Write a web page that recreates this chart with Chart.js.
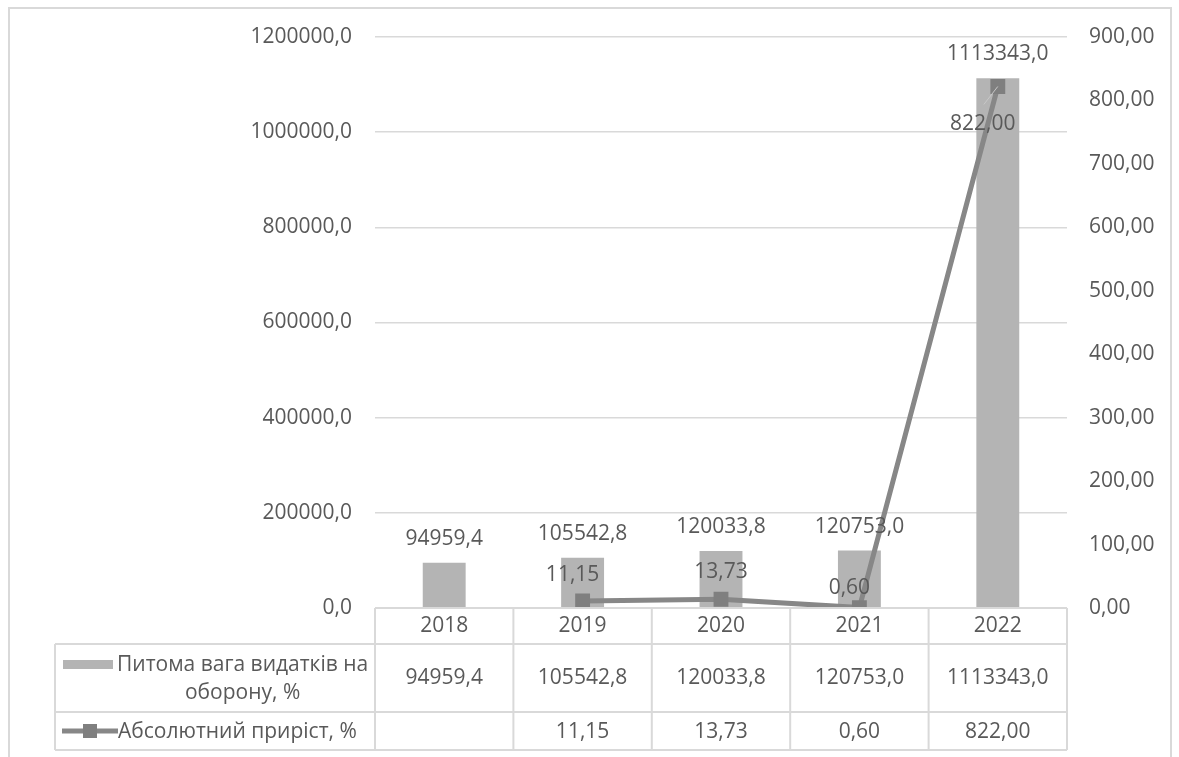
<!DOCTYPE html>
<html>
<head>
<meta charset="utf-8">
<script src="https://cdn.jsdelivr.net/npm/chart.js@4/dist/chart.umd.min.js"></script>
<style>
  html, body { margin: 0; padding: 0; background: #fff; }
  #wrap { width: 1179px; height: 757px; position: relative; }
</style>
</head>
<body>
<div id="wrap"><canvas id="defenceChart" width="1179" height="757"></canvas></div>
<script>
// chart values
const years = ['2018', '2019', '2020', '2021', '2022'];
const shareName = 'Питома вага видатків на оборону, %';
const shareValues = [94959.4, 105542.8, 120033.8, 120753.0, 1113343.0];
const growthName = 'Абсолютний приріст, %';
const growthValues = [null, 11.15, 13.73, 0.60, 822.00];
const leftTicks = [0, 200000, 400000, 600000, 800000, 1000000, 1200000];
const rightTicks = [0, 100, 200, 300, 400, 500, 600, 700, 800, 900];

const TEXT = '#595959';
const LINE = '#d9d9d9';
const BAR = '#b4b4b4';
const GROWTH = '#878787';
const FONT = '"Open Sans", sans-serif';
const FS = 21;

const comma = (v, d) => v.toFixed(d).replace('.', ',');

Chart.defaults.font.family = FONT;
Chart.defaults.font.size = FS;
Chart.defaults.color = TEXT;

// white background and light frame around the whole chart
const frame = {
  id: 'frame',
  beforeDraw(chart) {
    const ctx = chart.ctx;
    ctx.save();
    ctx.fillStyle = '#fff';
    ctx.fillRect(0, 0, chart.width, chart.height);
    ctx.strokeStyle = LINE;
    ctx.lineWidth = 2;
    ctx.strokeRect(9, 8, 1162, 780);
    ctx.restore();
  }
};

// value labels over bars and line points
const valueLabels = {
  id: 'valueLabels',
  afterDatasetsDraw(chart, args, opts) {
    const ctx = chart.ctx;
    ctx.save();
    ctx.font = FS + 'px ' + FONT;
    ctx.fillStyle = TEXT;
    ctx.textAlign = 'center';
    ctx.textBaseline = 'middle';

    const barMeta = chart.getDatasetMeta(1);
    barMeta.data.forEach((bar, i) => {
      ctx.fillText(comma(shareValues[i], 1), bar.x, bar.y - 24);
    });

    const lineMeta = chart.getDatasetMeta(0);
    lineMeta.data.forEach((pt, i) => {
      const v = growthValues[i];
      if (v === null) return;
      const off = opts.growthOffsets[i];
      const lx = pt.x + off[0];
      const ly = pt.y + off[1];
      if (off[1] > 0) {
        // leader line from a label placed below its point
        ctx.strokeStyle = '#c8c8c8';
        ctx.lineWidth = 1;
        ctx.beginPath();
        ctx.moveTo(lx + 1, ly - 20);
        ctx.lineTo(pt.x, pt.y);
        ctx.stroke();
      }
      ctx.fillText(comma(v, 2), lx, ly);
    });
    ctx.restore();
  }
};

// data table under the plot
const dataTable = {
  id: 'dataTable',
  afterDraw(chart) {
    const ctx = chart.ctx;
    const area = chart.chartArea;
    const colW = (area.right - area.left) / years.length;
    const top = area.bottom;
    const r1 = top + 36, r2 = top + 104, r3 = top + 142;
    const legendLeft = 55;

    ctx.save();
    ctx.strokeStyle = LINE;
    ctx.lineWidth = 2;
    ctx.beginPath();
    // horizontal rules
    ctx.moveTo(area.left, top); ctx.lineTo(area.right, top);
    ctx.moveTo(legendLeft, r1); ctx.lineTo(area.right, r1);
    ctx.moveTo(legendLeft, r2); ctx.lineTo(area.right, r2);
    ctx.moveTo(legendLeft, r3); ctx.lineTo(area.right, r3);
    // vertical rules
    ctx.moveTo(legendLeft, r1); ctx.lineTo(legendLeft, r3);
    for (let i = 0; i <= years.length; i++) {
      const x = area.left + i * colW;
      ctx.moveTo(x, top); ctx.lineTo(x, r3);
    }
    ctx.stroke();

    ctx.font = FS + 'px ' + FONT;
    ctx.fillStyle = TEXT;
    ctx.textAlign = 'center';
    ctx.textBaseline = 'middle';
    years.forEach((y, i) => {
      const cx = area.left + (i + 0.5) * colW;
      ctx.fillText(y, cx, (top + r1) / 2);
      ctx.fillText(comma(shareValues[i], 1), cx, (r1 + r2) / 2);
      if (growthValues[i] !== null) ctx.fillText(comma(growthValues[i], 2), cx, (r2 + r3) / 2 + 1);
    });

    // legend keys
    const words = shareName.split(' ');
    const line1 = words.slice(0, 4).join(' ');
    const line2 = words.slice(4).join(' ');
    ctx.fillStyle = BAR;
    ctx.fillRect(63, r1 + 16, 50, 9);
    ctx.fillStyle = TEXT;
    ctx.textAlign = 'left';
    ctx.fillText(line1, 117, r1 + 21);
    const w1 = ctx.measureText(line1).width;
    ctx.textAlign = 'center';
    ctx.fillText(line2, 117 + w1 / 2, r1 + 49);

    const ky = (r2 + r3) / 2;
    ctx.strokeStyle = GROWTH;
    ctx.lineWidth = 5;
    ctx.beginPath();
    ctx.moveTo(62, ky); ctx.lineTo(118, ky);
    ctx.stroke();
    ctx.fillStyle = '#7f7f7f';
    ctx.fillRect(83, ky - 7, 14, 14);
    ctx.fillStyle = TEXT;
    ctx.textAlign = 'left';
    ctx.fillText(growthName, 118, ky + 1);
    ctx.restore();
  }
};

new Chart(document.getElementById('defenceChart'), {
  type: 'bar',
  data: {
    labels: years,
    datasets: [
      {
        type: 'line',
        label: growthName,
        data: growthValues,
        yAxisID: 'y1',
        borderColor: GROWTH,
        borderWidth: 5,
        pointStyle: 'rect',
        pointRadius: 10.5,
        pointHoverRadius: 10.5,
        pointBackgroundColor: '#7f7f7f',
        pointBorderWidth: 0,
        tension: 0,
        order: 0
      },
      {
        type: 'bar',
        label: shareName,
        data: shareValues,
        yAxisID: 'y',
        backgroundColor: BAR,
        barPercentage: 0.31,
        categoryPercentage: 1,
        order: 1
      }
    ]
  },
  options: {
    responsive: false,
    animation: false,
    layout: { padding: { left: 0, right: 0, top: 37, bottom: 149 } },
    plugins: {
      legend: { display: false },
      tooltip: { enabled: false },
      valueLabels: {
        growthOffsets: [null, [-10, -26], [0, -27], [-10, -20], [-15, 38]]
      }
    },
    scales: {
      x: {
        display: false,
        offset: true,
        grid: { display: false }
      },
      y: {
        position: 'left',
        min: 0,
        max: 1200000,
        afterBuildTicks: s => { s.ticks = leftTicks.map(v => ({ value: v })); },
        afterFit: s => { s.width = 375; },
        ticks: {
          padding: 23,
          color: TEXT,
          font: { size: FS },
          callback: v => comma(v, 1)
        },
        grid: { color: LINE, lineWidth: 1.5, drawTicks: false },
        border: { display: false }
      },
      y1: {
        position: 'right',
        min: 0,
        max: 900,
        afterBuildTicks: s => { s.ticks = rightTicks.map(v => ({ value: v })); },
        afterFit: s => { s.width = 112; },
        ticks: {
          padding: 22,
          color: TEXT,
          font: { size: FS },
          callback: v => comma(v, 2)
        },
        grid: { display: false, drawTicks: false },
        border: { display: false }
      }
    }
  },
  plugins: [frame, valueLabels, dataTable]
});
</script>
</body>
</html>
